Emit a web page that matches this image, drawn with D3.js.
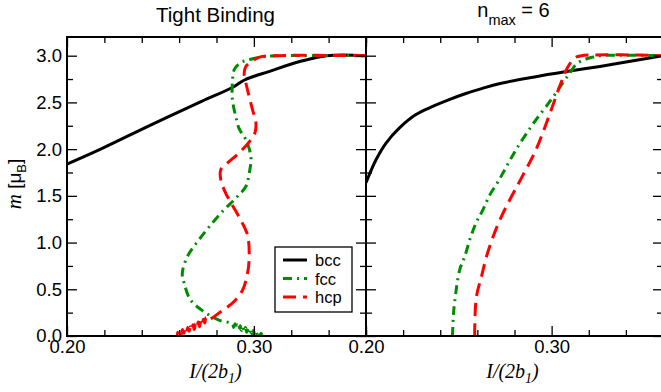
<!DOCTYPE html>
<html><head><meta charset="utf-8">
<script src="https://cdn.jsdelivr.net/npm/d3@7/dist/d3.min.js"></script>
<style>
body{margin:0;background:#fff;}
svg{display:block;font-family:"Liberation Sans",Arial,sans-serif;}
</style></head>
<body><svg id="c" width="661" height="392"></svg>
<script>
// ---------- DATA ----------
const panelTitles = ["Tight Binding", "n_max = 6"];
const seriesNames = ["bcc", "fcc", "hcp"];
const xTickLabels = [0.20, 0.30];
const yTickLabels = [0.0, 0.5, 1.0, 1.5, 2.0, 2.5, 3.0];

// Left panel (Tight Binding): I/(2b1) and m
const tbBccX = [0.200, 0.218, 0.245, 0.272, 0.289, 0.295, 0.308, 0.325, 0.339, 0.360];
const tbBccM = [1.84, 2.00, 2.26, 2.51, 2.665, 2.74, 2.83, 2.94, 3.00, 3.00];

const tbFccX = [0.3050, 0.3046, 0.3039, 0.3032, 0.3025, 0.3018, 0.3011, 0.3004, 0.2997, 0.2990, 0.2983, 0.2976,
  0.2969, 0.2962, 0.2955, 0.2948, 0.2941, 0.2934, 0.2927, 0.2920, 0.2913, 0.2906, 0.2899, 0.2892, 0.2885,
  0.2813, 0.2733, 0.2661, 0.2627, 0.2617, 0.2644, 0.2706, 0.2778, 0.2840, 0.2903, 0.2957, 0.2975, 0.2984,
  0.2957, 0.2921, 0.2903, 0.2885, 0.2885, 0.2895, 0.2925, 0.2970, 0.3060, 0.3127, 0.360];
const tbFccM = [0.01, 0.00, 0.03, 0.005, 0.04, 0.01, 0.05, 0.015, 0.06, 0.025, 0.07, 0.035,
  0.08, 0.04, 0.09, 0.05, 0.10, 0.06, 0.11, 0.07, 0.12, 0.08, 0.13, 0.09, 0.13,
  0.17, 0.26, 0.386, 0.565, 0.67, 0.85, 1.03, 1.21, 1.35, 1.475, 1.60, 1.74, 1.92,
  2.10, 2.22, 2.35, 2.53, 2.71, 2.85, 2.92, 2.955, 2.99, 3.00, 3.00];

const tbHcpX = [0.360, 0.311, 0.303, 0.299, 0.2957, 0.2948, 0.2957, 0.2975, 0.2993, 0.3011, 0.3005, 0.2984,
  0.2921, 0.2858, 0.2823, 0.2823, 0.2849, 0.2885, 0.2930, 0.2966, 0.2975, 0.2966, 0.2939, 0.2894, 0.2823, 0.2751,
  0.2744, 0.2737, 0.2730, 0.2723, 0.2716, 0.2709, 0.2702, 0.2695, 0.2688, 0.2681, 0.2674, 0.2667, 0.2660,
  0.2653, 0.2646, 0.2639, 0.2632, 0.2625, 0.2618, 0.2611, 0.2604, 0.2597, 0.2592, 0.2590];
const tbHcpM = [3.00, 3.00, 2.985, 2.94, 2.885, 2.81, 2.71, 2.56, 2.42, 2.28, 2.17, 2.10,
  1.96, 1.85, 1.78, 1.67, 1.53, 1.40, 1.24, 1.08, 0.85, 0.67, 0.49, 0.37, 0.26, 0.17,
  0.20, 0.14, 0.18, 0.12, 0.16, 0.10, 0.15, 0.09, 0.13, 0.07, 0.12, 0.06, 0.10,
  0.05, 0.09, 0.04, 0.08, 0.03, 0.07, 0.02, 0.05, 0.01, 0.04, 0.00];

// Right panel (n_max = 6)
const nmBccX = [0.200, 0.2054, 0.2108, 0.2179, 0.2269, 0.2359, 0.2448, 0.2538, 0.2627, 0.2717, 0.290, 0.308, 0.326, 0.344, 0.360];
const nmBccM = [1.64, 1.886, 2.065, 2.225, 2.37, 2.457, 2.53, 2.595, 2.65, 2.70, 2.77, 2.83, 2.885, 2.945, 3.00];

const nmFccX = [0.2466, 0.2470, 0.2478, 0.2505, 0.2532, 0.2559, 0.2595, 0.2630, 0.2667, 0.2711, 0.2756, 0.281, 0.290, 0.2998, 0.306, 0.3097, 0.3133, 0.318, 0.3222, 0.3258, 0.360];
const nmFccM = [0.00, 0.20, 0.37, 0.71, 0.85, 1.03, 1.22, 1.35, 1.51, 1.65, 1.81, 2.00, 2.27, 2.53, 2.71, 2.81, 2.91, 2.96, 2.985, 3.00, 3.00];

const nmHcpX = [0.2586, 0.2586, 0.2595, 0.2622, 0.2649, 0.2685, 0.2730, 0.2783, 0.2837, 0.2915, 0.2985, 0.3045, 0.3085, 0.3124, 0.3160, 0.360];
const nmHcpM = [0.00, 0.10, 0.42, 0.635, 0.85, 1.064, 1.28, 1.49, 1.69, 1.99, 2.35, 2.68, 2.87, 2.975, 3.00, 3.00];

// ---------- LAYOUT ----------
const svg = d3.select("#c");
const yTop = 37, yBot = 336;
const panels = [
  {x0: 67, x1: 366, title: 0, data: [[tbBccX, tbBccM], [tbFccX, tbFccM], [tbHcpX, tbHcpM]], ylabels: true},
  {x0: 366, x1: 663, title: 1, data: [[nmBccX, nmBccM], [nmFccX, nmFccM], [nmHcpX, nmHcpM]], ylabels: false}
];
const colors = ["#000000", "#008c00", "#ff0000"];
const dashes = [null, "9,5,2,5", "13,7"];

const y = d3.scaleLinear().domain([0, 3.2]).range([yBot, yTop]);
const xMinor = d3.range(0, 9).map(i => +(0.20 + i * 0.02).toFixed(2)).filter(v => v !== 0.2 && v !== 0.3);
const yMinor = d3.range(0, 13).map(i => i * 0.25).filter(v => Math.abs(v * 2 - Math.round(v * 2)) > 1e-6);
const yMajor = yTickLabels;

const maj = 10, mnr = 6;

panels.forEach((p, pi) => {
  const x = d3.scaleLinear().domain([0.20, 0.36]).range([p.x0, p.x1]);
  const g = svg.append("g");
  const clipId = "clip" + pi;
  svg.append("clipPath").attr("id", clipId).append("rect")
    .attr("x", p.x0).attr("y", yTop).attr("width", p.x1 - p.x0).attr("height", yBot - yTop);

  // curves
  const line = d3.line().x(d => x(d[0])).y(d => y(d[1])).curve(d3.curveCatmullRom.alpha(0.5));
  const cg = g.append("g").attr("clip-path", `url(#${clipId})`);
  p.data.forEach((s, si) => {
    const pts = s[0].map((v, i) => [v, s[1][i]]);
    cg.append("path").attr("d", line(pts)).attr("fill", "none")
      .attr("stroke", colors[si]).attr("stroke-width", 3)
      .attr("stroke-dasharray", dashes[si]);
  });

  // axes (ticks inward)
  const fmtX = d => d3.format(".2f")(d);
  const bottomMaj = d3.axisBottom(x).tickValues(xTickLabels).tickSize(-maj).tickPadding(4).tickFormat(fmtX);
  const bottomMin = d3.axisBottom(x).tickValues(xMinor).tickSize(-mnr).tickFormat("");
  const topMaj = d3.axisTop(x).tickValues(xTickLabels).tickSize(-maj).tickFormat("");
  const topMin = d3.axisTop(x).tickValues(xMinor).tickSize(-mnr).tickFormat("");
  const leftMaj = d3.axisLeft(y).tickValues(yMajor).tickSize(-maj).tickPadding(5).tickFormat(p.ylabels ? d3.format(".1f") : "");
  const leftMin = d3.axisLeft(y).tickValues(yMinor).tickSize(-mnr).tickFormat("");
  const rightMaj = d3.axisRight(y).tickValues(yMajor).tickSize(-maj).tickFormat("");
  const rightMin = d3.axisRight(y).tickValues(yMinor).tickSize(-mnr).tickFormat("");

  const axes = [
    [bottomMaj, `translate(0,${yBot})`], [bottomMin, `translate(0,${yBot})`],
    [topMaj, `translate(0,${yTop})`], [topMin, `translate(0,${yTop})`],
    [leftMaj, `translate(${p.x0},0)`], [leftMin, `translate(${p.x0},0)`],
    [rightMaj, `translate(${p.x1},0)`], [rightMin, `translate(${p.x1},0)`]
  ];
  axes.forEach(([a, t]) => {
    const ag = g.append("g").attr("transform", t).call(a);
    ag.select(".domain").remove();
    ag.selectAll(".tick line").attr("stroke", "#000").attr("stroke-width", 1.3);
    ag.selectAll(".tick text").attr("fill", "#000").style("font-size", "18.5px")
      .style("font-family", "'Liberation Sans', Arial, sans-serif");
  });

  // frame
  g.append("rect").attr("x", p.x0).attr("y", yTop).attr("width", p.x1 - p.x0).attr("height", yBot - yTop)
    .attr("fill", "none").attr("stroke", "#000").attr("stroke-width", 2);

  // x label
  const xl = g.append("text").attr("x", (p.x0 + Math.min(p.x1, 661)) / 2 - 1).attr("y", 378)
    .attr("text-anchor", "middle")
    .style("font-family", "'Liberation Serif', 'Times New Roman', serif").style("font-style", "italic")
    .style("font-size", "20px");
  xl.append("tspan").text("I/(2b");
  xl.append("tspan").attr("dy", 5).style("font-size", "14px").text("1");
  xl.append("tspan").attr("dy", -5).text(")");

  // title
  const cx = (p.x0 + p.x1) / 2 - 1;
  if (pi === 0) {
    g.append("text").attr("x", cx).attr("y", 22).attr("text-anchor", "middle")
      .style("font-size", "20.5px").text(panelTitles[0]);
  } else {
    const parts = panelTitles[1].split("_");
    const rest = parts[1].split(" ");
    const t = g.append("text").attr("x", cx).attr("y", 17).attr("text-anchor", "middle").style("font-size", "20px");
    t.append("tspan").text(parts[0]);
    t.append("tspan").attr("dy", 8).style("font-size", "14.5px").text(rest[0]);
    t.append("tspan").attr("dy", -8).text(" " + rest.slice(1).join(" "));
  }
});

// y label
const yl = svg.append("text").attr("transform", "translate(21,184) rotate(-90)").attr("text-anchor", "middle")
  .style("font-size", "19px");
yl.append("tspan").style("font-family", "'Liberation Serif', serif").style("font-style", "italic").style("font-size", "21px").text("m");
yl.append("tspan").text(" [μ");
yl.append("tspan").attr("dy", 5).style("font-size", "13px").text("B");
yl.append("tspan").attr("dy", -5).text("]");

// legend
const lg = svg.append("g");
lg.append("rect").attr("x", 275).attr("y", 247).attr("width", 77).attr("height", 65)
  .attr("fill", "#fff").attr("stroke", "#000").attr("stroke-width", 1.3);
seriesNames.forEach((n, i) => {
  const yy = 260 + i * 18.5;
  lg.append("line").attr("x1", 283).attr("x2", 307).attr("y1", yy).attr("y2", yy)
    .attr("stroke", colors[i]).attr("stroke-width", 3).attr("stroke-dasharray", dashes[i]);
  lg.append("text").attr("x", 315).attr("y", yy + 6).style("font-size", "16.5px").text(n);
});
</script></body></html>
